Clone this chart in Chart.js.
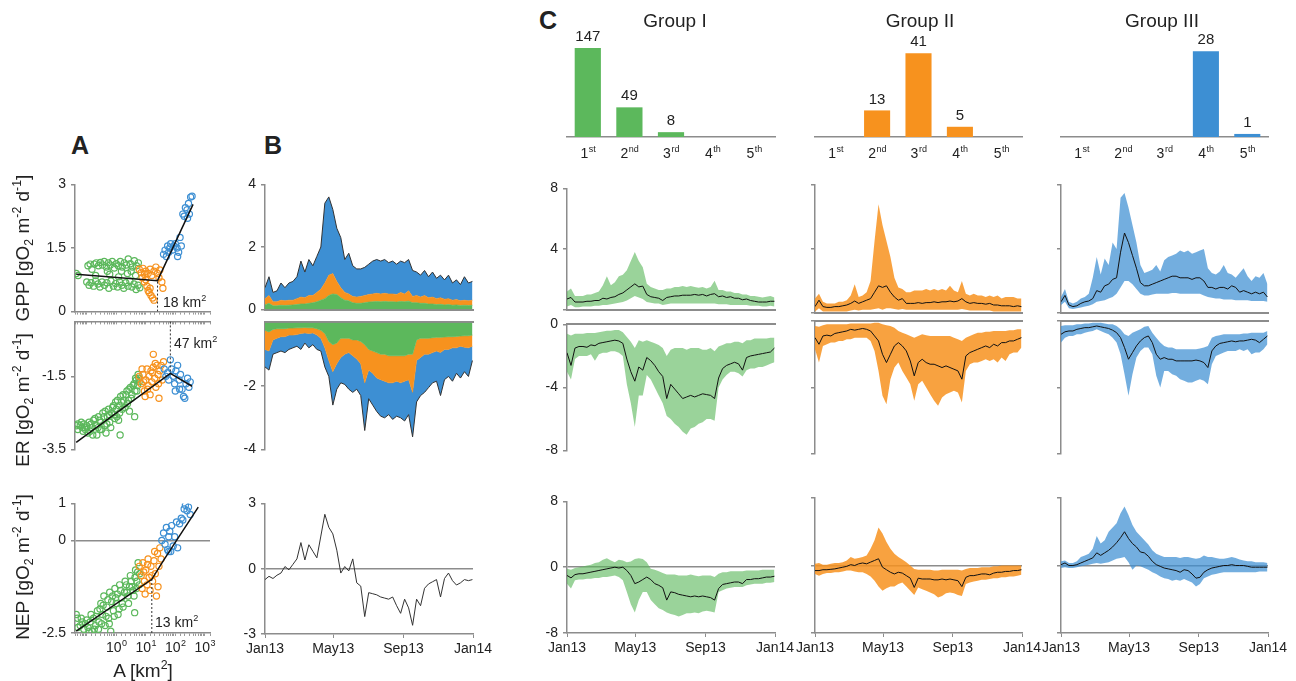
<!DOCTYPE html>
<html>
<head>
<meta charset="utf-8">
<script src="https://cdn.jsdelivr.net/npm/chart.js@4.4.1/dist/chart.umd.min.js"></script>
<style>
  body { margin: 0; background: #fff; font-family: "Liberation Sans", Arial, sans-serif; color: #222; }
  #fig { position: relative; width: 1296px; height: 681px; overflow: hidden; }
  canvas { position: absolute; }
  .t { position: absolute; white-space: nowrap; transform: translate(-50%, -50%); line-height: 1; z-index: 2; }
  .b { font-size: 25px; font-weight: bold; }
  .g { font-size: 19px; }
  .r { font-size: 19px; transform: translate(-50%, -50%) rotate(-90deg); }
  .n { position: absolute; white-space: nowrap; transform: translateY(-50%); font-size: 14px; line-height: 1; z-index: 2; }
  sup, sub { font-size: 65%; line-height: 0; }
</style>
</head>
<body>
<div id="fig">
  <div class="t b" style="left:80px;top:145px">A</div>
  <div class="t b" style="left:273px;top:145px">B</div>
  <div class="t b" style="left:548px;top:20px">C</div>
  <div class="t g" style="left:675px;top:20px">Group I</div>
  <div class="t g" style="left:920px;top:20px">Group II</div>
  <div class="t g" style="left:1162px;top:20px">Group III</div>
  <div class="t r" style="left:22px;top:248px">GPP [gO<sub>2</sub> m<sup>-2</sup> d<sup>-1</sup>]</div>
  <div class="t r" style="left:22px;top:400px">ER [gO<sub>2</sub> m<sup>-2</sup> d<sup>-1</sup>]</div>
  <div class="t r" style="left:22px;top:567px">NEP [gO<sub>2</sub> m<sup>-2</sup> d<sup>-1</sup>]</div>
  <div class="t" style="left:143px;top:670px;font-size:19px">A [km<sup>2</sup>]</div>
  <div class="n" style="left:163px;top:302px">18 km<sup>2</sup></div>
  <div class="n" style="left:174px;top:343px">47 km<sup>2</sup></div>
  <div class="n" style="left:155px;top:622px">13 km<sup>2</sup></div>
</div>
<script>
// ---- panel A: [catchment area km2, rate] per stream
const gppGreen = [[0.044,0.9],[0.051,0.85],[0.11,1.08],[0.13,1.12],[0.15,1.0],[0.18,1.12],[0.21,1.15],[0.25,1.08],[0.29,1.16],[0.34,1.1],[0.39,1.18],[0.46,1.05],[0.54,1.15],[0.63,1.1],[0.73,1.18],[0.86,1.03],[1.0,1.13],[1.17,1.08],[1.37,1.18],[1.6,1.05],[1.87,1.15],[2.2,1.1],[2.55,1.24],[3.0,1.13],[3.5,1.05],[4.1,1.2],[4.8,1.08],[5.6,1.15],[0.5,0.95],[1.5,0.95],[3.2,0.95],[0.2,0.85],[0.6,0.88],[1.2,0.82],[2.4,0.9],[4.5,0.85],[0.1,0.7],[0.12,0.62],[0.14,0.68],[0.17,0.6],[0.2,0.72],[0.24,0.65],[0.28,0.58],[0.33,0.7],[0.4,0.62],[0.48,0.68],[0.56,0.55],[0.66,0.72],[0.8,0.6],[0.95,0.66],[1.1,0.58],[1.3,0.7],[1.55,0.62],[1.8,0.55],[2.1,0.68],[2.5,0.6],[2.9,0.72],[3.4,0.58],[4.0,0.65],[4.7,0.52],[5.5,0.62],[6.3,0.56]];
const gppOrange = [[6,1.0],[7,0.92],[8,1.02],[9,0.88],[10,0.95],[12,0.9],[14,1.0],[16,0.85],[19,0.95],[22,1.05],[25,0.9],[30,0.98],[7.5,0.8],[9,0.7],[11,0.6],[12,0.5],[13,0.45],[15,0.38],[17,0.32],[19,0.27],[14,0.55],[10,0.75],[35,0.7],[38,0.55],[28,0.8]];
const gppBlue = [[40,1.35],[45,1.45],[50,1.3],[55,1.55],[60,1.4],[65,1.5],[70,1.6],[80,1.45],[90,1.55],[100,1.6],[115,1.5],[130,1.4],[145,1.75],[160,1.55],[120,1.3],[180,2.3],[200,2.25],[220,2.45],[250,2.4],[280,2.55],[300,2.3],[330,2.7],[370,2.72],[260,2.2]];
const gppFit = [[0.044,0.88],[25,0.73],[400,2.53]];
const gppBreak = [[25,0],[25,0.73]];

const erGreen = [[0.044,-2.85],[0.05,-2.8],[0.06,-2.85],[0.07,-2.9],[0.08,-2.8],[0.09,-2.95],[0.1,-2.85],[0.12,-2.75],[0.13,-3.0],[0.15,-2.9],[0.17,-2.7],[0.2,-2.85],[0.22,-3.1],[0.25,-2.6],[0.28,-2.95],[0.3,-2.75],[0.35,-2.5],[0.4,-2.85],[0.45,-3.05],[0.5,-2.6],[0.55,-2.4],[0.6,-2.75],[0.7,-2.5],[0.8,-2.3],[0.9,-2.65],[1.0,-2.4],[1.1,-2.15],[1.3,-2.5],[1.5,-2.2],[1.7,-2.0],[2.0,-2.35],[2.3,-1.9],[2.6,-2.15],[3.0,-1.8],[3.4,-2.0],[4.0,-1.7],[4.5,-1.55],[5.0,-1.9],[5.5,-1.45],[6.0,-1.65],[4.2,-2.6],[1.35,-3.1],[1.2,-2.7],[2.8,-2.45],
  [0.05,-2.95],[0.065,-2.75],[0.075,-3.0],[0.085,-2.9],[0.11,-3.05],[0.14,-2.8],[0.16,-3.1],[0.19,-2.65],[0.24,-2.9],[0.27,-2.7],[0.32,-2.95],[0.38,-2.6],[0.42,-2.45],[0.48,-2.8],[0.58,-2.55],[0.65,-2.9],[0.75,-2.35],[0.85,-2.55],[0.95,-2.2],[1.05,-2.6],[1.25,-2.3],[1.4,-2.05],[1.6,-2.4],[1.8,-2.15],[2.1,-2.0],[2.4,-2.25],[2.7,-1.85],[3.2,-2.1],[3.7,-1.75],[4.3,-1.9],[4.8,-1.6],[5.3,-1.75],[5.8,-1.55]];
const erOrange = [[6,-1.5],[7,-1.7],[8,-1.45],[9,-1.9],[10,-1.6],[11,-1.3],[12,-1.75],[13,-1.5],[14,-2.0],[15,-1.35],[16,-1.65],[18,-0.9],[18,-1.25],[20,-1.55],[22,-1.8],[24,-1.2],[26,-1.45],[28,-2.1],[30,-1.35],[33,-1.2],[36,-1.6],[40,-1.1],[9.5,-2.05],[7.5,-1.3],[8.5,-1.65],[11.5,-1.85],[17,-1.4],[21,-1.15],[27,-1.7]];
const erBlue = [[42,-1.3],[48,-1.5],[55,-1.4],[60,-1.6],[68,-1.05],[75,-1.3],[85,-1.5],[95,-1.7],[105,-1.35],[120,-1.2],[135,-1.6],[150,-1.45],[170,-1.85],[190,-2.05],[210,-2.1],[230,-1.7],[260,-1.55],[290,-1.8],[320,-1.65],[140,-1.85],[100,-1.9]];
const erFit = [[0.044,-3.3],[68,-1.42],[370,-1.77]];
const erBreak = [[68,0],[68,-1.42]];

const nepGreen = [[0.044,-2.0],[0.048,-2.1],[0.06,-2.3],[0.07,-2.2],[0.08,-2.4],[0.09,-2.25],[0.11,-2.35],[0.13,-2.2],[0.15,-2.45],[0.17,-2.1],[0.2,-2.3],[0.23,-1.9],[0.26,-2.2],[0.3,-1.7],[0.34,-2.0],[0.38,-1.5],[0.42,-2.3],[0.48,-1.8],[0.55,-2.1],[0.6,-1.4],[0.7,-1.65],[0.8,-1.9],[0.9,-1.3],[1.0,-1.7],[1.15,-2.0],[1.3,-1.2],[1.5,-1.55],[1.7,-1.8],[2.0,-1.1],[2.3,-1.4],[2.6,-1.7],[3.0,-0.95],[3.4,-1.25],[4.0,-1.5],[4.5,-0.8],[5.0,-1.1],[5.5,-0.6],[6.2,-0.9],[4.2,-1.95],[0.65,-2.45],
  [0.05,-2.35],[0.065,-2.1],[0.1,-2.15],[0.12,-2.45],[0.14,-2.0],[0.18,-2.4],[0.21,-2.05],[0.25,-2.4],[0.28,-1.85],[0.32,-2.25],[0.36,-1.75],[0.45,-2.05],[0.52,-1.6],[0.58,-2.25],[0.75,-1.5],[0.85,-2.05],[0.95,-1.55],[1.1,-1.45],[1.25,-1.85],[1.4,-1.35],[1.6,-1.7],[1.9,-1.4],[2.2,-1.2],[2.5,-1.5],[2.8,-1.25],[3.2,-1.1],[3.7,-1.35],[4.3,-1.0],[4.8,-1.3],[5.3,-0.85],[6.0,-1.2]];
const nepOrange = [[6,-0.7],[7,-0.95],[7.5,-1.3],[8,-0.6],[9,-1.1],[9.5,-1.45],[10,-0.8],[11,-1.2],[12,-0.5],[13,-1.0],[14,-1.35],[15,-0.7],[17,-1.1],[19,-0.55],[21,-0.9],[23,-1.5],[25,-0.35],[28,-0.7],[30,-0.2],[33,-0.5],[26,-1.25],[20,-0.3],[8.5,-0.85],[11.5,-0.65],[16,-0.95]];
const nepBlue = [[35,0.0],[40,0.2],[45,-0.1],[50,0.35],[55,-0.25],[60,0.1],[65,0.25],[70,-0.3],[75,0.4],[85,-0.15],[95,0.1],[110,0.5],[120,-0.2],[140,0.45],[160,0.6],[180,0.55],[200,0.85],[220,0.95],[250,0.8],[280,0.9],[320,0.7],[60,-0.3]];
const nepFit = [[0.044,-2.45],[16,-1.05],[39,-0.55],[600,0.9]];
const nepBreak = [[16,-2.5],[16,-1.05]];

const areaTicks = [1, 10, 100, 1000];
const areaExp = ['0', '1', '2', '3'];

// ---- time axis (days since 1 Jan 2013, weekly)
const days = [0,7,14,21,28,35,42,49,56,63,70,77,84,91,98,105,112,119,126,133,140,147,154,161,168,175,182,189,196,203,210,217,224,231,238,245,252,259,266,273,280,287,294,301,308,315,322,329,336,343,350,357,364];
const tickDays = [0, 120, 243, 365];
const monthLabels = ['Jan13', 'May13', 'Sep13', 'Jan14'];

// ---- panel B: stacked group contributions
const bGppGreen = [0.15,0.2,0.12,0.12,0.14,0.13,0.14,0.15,0.16,0.18, 0.18,0.2,0.22,0.25,0.3,0.35,0.45,0.5,0.48,0.38, 0.3,0.28,0.22,0.2,0.2,0.22,0.24,0.25,0.26,0.25, 0.26,0.25,0.25,0.24,0.26,0.25,0.27,0.22,0.22,0.2, 0.2,0.18,0.18,0.16,0.17,0.15,0.16,0.14,0.15,0.13, 0.14,0.13,0.14];
const bGppOrange = [0.2,0.25,0.13,0.13,0.16,0.15,0.16,0.15,0.19,0.22, 0.2,0.25,0.23,0.3,0.35,0.5,0.65,0.65,0.42,0.32, 0.25,0.22,0.2,0.2,0.22,0.23,0.24,0.25,0.26,0.25, 0.26,0.25,0.25,0.24,0.29,0.25,0.33,0.2,0.23,0.2, 0.25,0.2,0.22,0.19,0.21,0.18,0.19,0.16,0.17,0.15, 0.16,0.15,0.16];
const bGppBlue = [0.35,0.6,0.3,0.35,0.55,0.42,0.55,0.6,0.7,1.15, 0.82,1.15,0.95,1.15,1.35,2.55,2.5,2.05,1.7,1.6, 1.05,1.3,0.98,0.9,0.88,0.9,0.97,1.05,1.08,1.05, 1.08,1.0,1.05,0.97,1.0,1.0,1.0,0.83,0.75,0.7, 0.8,0.67,0.8,0.65,0.72,0.62,0.75,0.55,0.63,0.52, 0.75,0.57,0.6];
const bErGreen = [-0.25,-0.3,-0.22,-0.2,-0.2,-0.2,-0.18,-0.18,-0.17,-0.17, -0.16,-0.17,-0.17,-0.2,-0.25,-0.35,-0.6,-0.7,-0.65,-0.5, -0.5,-0.5,-0.55,-0.55,-0.6,-0.7,-0.85,-0.9,-0.95,-1.0, -1.0,-1.05,-1.05,-1.05,-1.05,-1.05,-1.0,-1.0,-0.55,-0.5, -0.5,-0.5,-0.48,-0.47,-0.47,-0.46,-0.45,-0.45,-0.44,-0.43, -0.42,-0.42,-0.4];
const bErOrange = [-0.6,-0.6,-0.33,-0.3,-0.25,-0.25,-0.22,-0.22,-0.21,-0.18, -0.17,-0.18,-0.16,-0.2,-0.25,-0.45,-0.6,-0.85,-0.65,-0.6, -0.5,-0.45,-0.5,-0.6,-0.7,-1.2,-0.65,-0.7,-0.8,-0.8, -0.85,-0.85,-0.85,-0.8,-0.85,-0.8,-0.8,-1.2,-0.65,-0.6, -0.5,-0.5,-0.47,-0.43,-0.48,-0.39,-0.4,-0.35,-0.36,-0.32, -0.36,-0.38,-0.35];
const bErBlue = [-0.55,-0.6,-0.45,-0.45,-0.45,-0.5,-0.45,-0.4,-0.37,-0.5, -0.32,-0.45,-0.37,-0.45,-0.4,-0.6,-0.5,-1.05,-0.8,-0.8, -0.95,-1.15,-1.15,-0.95,-1.0,-1.5,-0.9,-1.0,-1.05,-1.15, -1.15,-1.0,-1.15,-1.1,-1.1,-1.25,-1.1,-1.4,-1.3,-1.2, -1.2,-1.05,-0.95,-0.95,-1.35,-0.95,-0.85,-1.05,-0.8,-1.0, -0.77,-0.9,-0.45];
const bNep = [-0.5,-0.35,-0.45,-0.3,-0.2,0.1,-0.05,0.2,0.45,1.2, 0.4,1.1,0.8,0.5,1.5,2.5,1.9,1.6,0.85,-0.2, 0.1,-0.1,0.45,-0.65,-0.8,-2.2,-1.1,-1.15,-1.2,-1.3, -1.35,-1.4,-1.3,-1.7,-2.05,-1.4,-1.8,-2.6,-1.4,-1.7, -0.9,-0.7,-0.6,-0.5,-1.3,-0.45,-0.2,-0.55,-0.75,-0.65, -0.5,-0.55,-0.5];

// ---- panel C: counts by stream order
const orderNum = ['1', '2', '3', '4', '5'];
const orderSup = ['st', 'nd', 'rd', 'th', 'th'];
const countsI = [147, 49, 8, 0, 0];
const countsII = [0, 13, 41, 5, 0];
const countsIII = [0, 0, 0, 28, 1];

// ---- panel C: group mean and range
const c1GppMean = [0.7,0.8,0.5,0.5,0.5,0.55,0.55,0.6,0.6,0.75, 0.7,0.8,0.85,1.0,1.1,1.3,1.5,1.7,1.5,1.55, 1.0,0.85,0.8,0.75,0.6,0.8,0.85,0.9,0.9,0.95, 0.95,0.95,1.0,0.95,1.0,0.9,1.0,1.05,0.85,0.9, 0.8,0.85,0.75,0.75,0.65,0.7,0.6,0.55,0.5,0.5, 0.5,0.55,0.55];
const c1GppLo = [0.2,0.3,0.15,0.15,0.2,0.2,0.2,0.25,0.25,0.3, 0.3,0.35,0.4,0.45,0.5,0.6,0.75,0.9,0.8,0.7, 0.5,0.45,0.4,0.4,0.3,0.35,0.4,0.4,0.4,0.4, 0.4,0.4,0.4,0.4,0.4,0.4,0.4,0.4,0.35,0.35, 0.35,0.3,0.3,0.3,0.3,0.3,0.25,0.25,0.25,0.2, 0.2,0.25,0.2];
const c1GppHi = [1.2,1.4,0.9,0.9,0.9,1.0,1.0,1.1,1.2,1.6, 2.2,1.6,1.8,2.2,2.3,2.6,3.2,3.8,3.2,2.8, 1.7,1.5,1.4,1.3,1.3,1.4,1.4,1.5,1.5,1.55, 1.5,1.55,1.5,1.45,1.5,1.4,1.5,1.9,1.3,1.3, 1.2,1.2,1.1,1.1,1.0,1.0,0.9,0.9,0.85,0.8, 0.85,0.9,0.8];
const c1ErMean = [-1.8,-2.6,-1.5,-1.4,-1.4,-1.45,-1.3,-1.35,-1.2,-1.15, -1.1,-1.05,-1.0,-1.05,-1.2,-2.2,-3.0,-3.6,-2.7,-2.9, -2.1,-2.3,-2.6,-3.0,-3.3,-4.7,-3.8,-4.1,-4.4,-4.7, -4.6,-4.5,-4.6,-4.5,-4.4,-4.45,-4.5,-4.7,-3.4,-2.8, -2.6,-2.5,-2.4,-2.5,-2.9,-2.1,-2.0,-1.95,-1.9,-1.85, -1.8,-1.75,-1.5];
const c1ErHi = [-0.6,-0.7,-0.6,-0.6,-0.6,-0.55,-0.55,-0.55,-0.5,-0.45, -0.4,-0.4,-0.35,-0.35,-0.5,-0.8,-1.1,-1.5,-1.0,-1.1, -1.0,-1.1,-1.2,-1.3,-1.5,-2.0,-1.6,-1.5,-1.5,-1.5, -1.6,-1.5,-1.5,-1.5,-1.6,-1.6,-1.5,-1.7,-1.4,-1.3, -1.2,-1.2,-1.1,-1.1,-1.2,-1.0,-1.0,-0.9,-0.9,-0.9, -0.9,-0.85,-0.85];
const c1ErLo = [-3.0,-3.5,-2.2,-2.0,-2.0,-2.0,-1.9,-2.3,-1.9,-1.8, -1.8,-1.7,-1.7,-1.8,-2.0,-3.8,-5.0,-6.5,-4.5,-4.5, -3.2,-3.5,-4.0,-4.5,-5.0,-5.8,-6.0,-6.3,-6.5,-6.8, -7.0,-6.6,-6.5,-6.3,-6.2,-6.0,-6.0,-6.1,-4.0,-3.5, -3.2,-3.0,-3.0,-3.1,-3.3,-2.9,-2.8,-2.8,-2.7,-2.7, -2.6,-2.5,-2.4];
const c1NepMean = [-1.0,-1.3,-0.9,-0.8,-0.8,-0.7,-0.6,-0.5,-0.4,-0.3, -0.2,-0.1,0.0,-0.1,0.0,-0.4,-1.0,-2.0,-1.8,-1.5, -1.2,-1.5,-2.0,-2.2,-2.5,-4.0,-3.0,-3.1,-3.3,-3.4, -3.5,-3.6,-3.5,-3.6,-3.5,-3.6,-3.7,-4.0,-2.6,-2.1, -2.0,-1.9,-1.8,-1.8,-2.0,-1.5,-1.5,-1.4,-1.4,-1.3, -1.2,-1.2,-1.1];
const c1NepHi = [-0.2,-0.3,-0.1,0.0,0.1,0.2,0.3,0.5,0.6,0.9, 1.1,0.8,0.6,0.9,0.8,0.6,0.7,1.0,1.1,1.0, 0.6,-0.2,-0.3,-0.5,-0.7,-0.9,-0.9,-0.9,-1.0,-1.0, -1.0,-0.9,-1.0,-1.1,-1.0,-1.0,-1.0,-1.2,-0.8,-0.6, -0.6,-0.5,-0.5,-0.5,-0.5,-0.4,-0.4,-0.4,-0.4,-0.3, -0.3,-0.3,-0.3];
const c1NepLo = [-2.0,-2.6,-1.6,-1.5,-1.5,-1.4,-1.4,-1.3,-1.3,-1.2, -1.2,-1.1,-1.0,-1.2,-1.6,-3.0,-4.5,-5.5,-4.0,-3.0, -3.0,-4.0,-4.5,-5.0,-5.2,-5.5,-5.7,-5.8,-6.0,-5.8, -5.6,-5.6,-5.5,-5.6,-5.4,-5.3,-5.4,-5.5,-3.0,-2.8, -2.6,-2.5,-2.4,-2.4,-2.4,-2.2,-2.1,-2.0,-2.0,-2.0, -1.9,-1.9,-1.8];

const c2GppMean = [0.4,0.8,0.4,0.35,0.35,0.4,0.4,0.45,0.5,0.6, 0.75,0.6,0.7,0.8,0.9,1.3,1.7,1.6,1.7,1.3, 1.0,0.8,0.9,0.6,0.6,0.6,0.65,0.6,0.65,0.65, 0.7,0.65,0.7,0.7,0.75,0.7,0.75,0.9,0.7,0.6, 0.65,0.6,0.6,0.55,0.6,0.5,0.5,0.45,0.45,0.45, 0.4,0.45,0.4];
const c2GppLo = [0.1,0.3,0.1,0.1,0.1,0.1,0.1,0.1,0.1,0.15, 0.2,0.15,0.2,0.2,0.2,0.25,0.3,0.2,0.3,0.3, 0.25,0.2,0.25,0.2,0.2,0.2,0.2,0.2,0.2,0.2, 0.2,0.2,0.2,0.2,0.2,0.2,0.2,0.25,0.2,0.15, 0.15,0.15,0.15,0.15,0.15,0.1,0.1,0.1,0.1,0.1, 0.1,0.1,0.1];
const c2GppHi = [0.9,1.2,0.7,0.6,0.6,0.6,0.7,0.7,0.8,1.1, 1.8,1.0,1.1,1.3,2.0,4.5,6.8,5.5,4.5,3.5, 2.2,1.6,1.5,1.3,1.3,1.4,1.4,1.4,1.5,1.4, 1.5,1.4,1.5,1.4,1.7,1.4,1.3,2.0,1.2,1.1, 1.2,1.1,1.1,1.0,1.1,1.0,1.1,0.9,1.0,1.0, 1.0,0.9,0.9];
const c2ErMean = [-1.0,-1.4,-0.9,-0.85,-0.9,-0.75,-0.7,-0.65,-0.6,-0.5, -0.55,-0.5,-0.45,-0.5,-0.6,-0.9,-1.2,-2.0,-2.5,-2.0, -1.5,-1.3,-1.5,-1.8,-2.4,-3.3,-2.5,-2.3,-2.5,-2.6, -2.6,-2.7,-2.8,-2.7,-2.8,-2.9,-3.0,-3.5,-2.1,-1.9, -1.8,-1.7,-1.6,-1.5,-1.6,-1.4,-1.5,-1.3,-1.3,-1.2, -1.2,-1.1,-1.0];
const c2ErHi = [-0.3,-0.35,-0.25,-0.2,-0.2,-0.2,-0.2,-0.2,-0.2,-0.15, -0.15,-0.15,-0.15,-0.15,-0.15,-0.1,-0.1,-0.2,-0.25,-0.3, -0.4,-0.6,-0.7,-0.8,-0.9,-1.0,-0.9,-0.8,-0.85,-0.9, -0.9,-0.9,-0.9,-0.9,-0.9,-1.0,-1.1,-1.2,-1.0,-0.9, -0.8,-0.7,-0.7,-0.65,-0.65,-0.6,-0.6,-0.6,-0.6,-0.55, -0.55,-0.5,-0.5];
const c2ErLo = [-1.7,-2.5,-1.5,-1.4,-1.3,-1.3,-1.2,-1.2,-1.1,-1.1, -1.0,-1.0,-1.0,-1.0,-1.2,-1.8,-3.0,-4.5,-5.0,-3.5, -2.8,-2.5,-3.0,-3.4,-3.8,-4.8,-3.8,-3.6,-4.0,-4.4, -4.8,-5.1,-4.6,-4.4,-4.3,-4.2,-4.3,-4.9,-3.0,-2.6, -2.5,-2.5,-2.4,-2.3,-2.4,-2.3,-2.5,-2.2,-2.4,-2.0, -1.9,-1.9,-1.6];
const c2NepMean = [-0.6,-0.6,-0.5,-0.5,-0.45,-0.4,-0.3,-0.2,-0.1,0.1, 0.0,0.2,0.3,0.2,0.4,0.6,0.8,-0.2,-0.5,-0.8, -1.0,-0.8,-0.9,-1.2,-1.5,-2.6,-1.5,-1.6,-1.6,-1.6, -1.7,-1.7,-1.6,-1.7,-1.6,-1.7,-1.8,-2.5,-1.4,-1.2, -1.2,-1.1,-1.0,-1.0,-1.1,-0.9,-0.8,-0.8,-0.7,-0.7, -0.6,-0.6,-0.5];
const c2NepHi = [0.2,0.3,0.1,0.1,0.2,0.3,0.3,0.4,0.6,1.0, 0.8,0.9,1.0,1.2,2.0,3.0,4.5,3.8,2.8,2.0, 1.4,1.0,0.7,0.4,0.0,-0.4,-0.5,-0.5,-0.5,-0.5, -0.6,-0.6,-0.5,-0.5,-0.5,-0.5,-0.5,-0.6,-0.4,-0.3, -0.3,-0.3,-0.2,-0.2,-0.2,-0.1,-0.1,0.0,0.0,0.0, 0.0,0.0,0.0];
const c2NepLo = [-1.0,-1.2,-1.0,-0.9,-0.9,-0.8,-0.8,-0.7,-0.6,-0.6, -0.7,-0.8,-0.8,-1.0,-1.3,-1.8,-2.5,-3.0,-2.7,-2.5, -2.5,-2.2,-2.0,-2.5,-3.0,-3.5,-2.6,-2.8,-3.0,-3.2, -3.4,-3.8,-3.6,-3.3,-3.2,-3.3,-3.5,-3.6,-2.2,-2.0, -1.9,-1.8,-1.7,-1.7,-1.6,-1.5,-1.5,-1.4,-1.4,-1.3, -1.3,-1.2,-1.1];

const c3GppMean = [0.7,1.1,0.5,0.4,0.45,0.6,0.7,0.75,0.9,1.4, 1.3,1.7,1.8,2.1,2.2,3.8,5.0,4.4,3.6,2.8, 1.9,1.7,1.7,1.8,1.9,2.0,2.1,2.2,2.3,2.3, 2.2,2.2,2.2,2.1,2.2,2.2,2.0,1.6,1.6,1.5, 1.6,1.6,1.5,1.7,1.6,1.3,1.4,1.3,1.2,1.3, 1.2,1.3,1.0];
const c3GppLo = [0.5,0.7,0.3,0.25,0.3,0.35,0.4,0.45,0.55,0.7, 0.75,0.8,0.9,1.0,1.2,1.6,2.0,2.0,1.8,1.5, 1.2,1.1,1.1,1.15,1.2,1.2,1.2,1.2,1.25,1.25, 1.2,1.2,1.2,1.2,1.2,1.2,1.1,1.0,0.95,0.9, 0.9,0.85,0.85,0.85,0.8,0.8,0.8,0.8,0.75,0.75, 0.75,0.75,0.7];
const c3GppHi = [1.0,1.5,0.7,0.6,0.7,0.9,1.0,1.2,2.2,3.5, 2.4,3.4,3.0,4.4,4.0,7.2,7.5,6.6,5.5,4.4, 3.0,2.5,2.6,2.7,3.0,2.6,3.3,3.5,3.6,3.7, 3.9,3.8,3.9,3.7,3.8,3.9,4.0,2.8,2.5,2.4, 2.6,3.0,2.5,2.4,2.2,2.5,2.8,2.3,2.0,2.3, 2.2,2.5,1.8];
const c3ErMean = [-0.8,-0.65,-0.6,-0.6,-0.5,-0.45,-0.4,-0.4,-0.35,-0.3, -0.35,-0.4,-0.45,-0.55,-0.7,-1.0,-1.6,-2.3,-1.9,-1.5, -1.2,-1.0,-0.9,-1.3,-2.0,-2.3,-2.2,-2.3,-2.3,-2.4, -2.4,-2.4,-2.4,-2.4,-2.35,-2.4,-2.5,-2.8,-1.8,-1.5, -1.35,-1.3,-1.25,-1.2,-1.25,-1.2,-1.2,-1.15,-1.1,-1.15, -1.3,-1.1,-0.9];
const c3ErHi = [-0.3,-0.25,-0.25,-0.25,-0.2,-0.2,-0.15,-0.15,-0.1,-0.1, -0.1,-0.15,-0.2,-0.2,-0.3,-0.5,-0.8,-0.9,-0.7,-0.6, -0.5,-0.35,-0.3,-0.7,-1.0,-1.3,-1.5,-1.6,-1.6,-1.7, -1.7,-1.7,-1.7,-1.7,-1.7,-1.65,-1.6,-1.5,-1.0,-0.9, -0.85,-0.8,-0.8,-0.8,-0.8,-0.8,-0.75,-0.75,-0.7,-0.7, -0.7,-0.7,-0.6];
const c3ErLo = [-1.3,-1.0,-0.9,-0.9,-0.8,-0.8,-0.7,-0.65,-0.6,-0.5, -0.6,-0.7,-0.8,-1.0,-1.3,-2.0,-3.2,-4.5,-3.2,-2.2, -1.8,-1.6,-1.6,-2.0,-3.3,-4.0,-3.0,-3.0,-3.2,-3.3, -3.5,-3.6,-3.7,-3.7,-3.6,-3.5,-3.6,-3.8,-2.6,-2.1, -2.0,-1.9,-1.8,-1.8,-1.8,-1.7,-1.8,-1.7,-2.0,-1.9, -1.9,-1.7,-1.4];
const c3NepMean = [0.1,0.3,0.0,0.0,0.1,0.3,0.5,0.7,0.9,1.5, 1.2,1.5,1.8,2.2,2.7,3.3,4.0,3.2,2.6,2.2, 1.6,1.5,1.1,0.5,0.1,-0.1,-0.3,-0.4,-0.5,-0.6, -0.8,-0.5,-0.6,-1.0,-1.5,-1.4,-0.8,-0.5,-0.3,-0.2, -0.1,0.0,0.0,0.1,0.0,0.0,0.0,-0.1,-0.2,-0.2, -0.2,-0.2,-0.2];
const c3NepHi = [0.5,0.6,0.3,0.3,0.5,1.0,1.2,1.4,2.0,3.5, 2.6,3.0,4.0,4.5,5.0,6.2,7.0,6.0,4.8,4.0, 3.5,3.0,2.5,1.8,1.4,1.2,1.0,1.0,1.0,1.0, 0.9,1.0,1.0,0.9,0.8,0.9,1.2,1.0,1.0,0.9, 0.8,0.8,0.9,1.0,0.9,0.7,0.6,0.5,0.5,0.4, 0.4,0.4,0.3];
const c3NepLo = [-0.3,-0.2,-0.3,-0.3,-0.2,-0.1,0.0,0.1,0.2,0.3, 0.2,0.3,0.4,0.6,0.8,0.9,1.0,0.4,-0.5,0.0, -0.1,-0.3,-0.5,-0.8,-1.0,-1.3,-1.5,-1.6,-1.8,-1.7, -1.8,-1.6,-1.8,-2.0,-2.5,-2.2,-1.5,-1.3,-1.1,-1.0, -0.9,-0.8,-0.8,-0.8,-0.8,-0.8,-0.8,-0.8,-0.8,-0.8, -0.7,-0.7,-0.7];

// ---------------------------------------------------------------
Chart.defaults.font.family = '"Liberation Sans", Arial, sans-serif';
Chart.defaults.font.size = 14;
Chart.defaults.color = '#222';

const GRAY = '#8c8c8c';
const GREEN = '#5cb85c', ORANGE = '#f7921e', BLUE = '#3d8fd3';
const BAND_G = 'rgba(92,184,92,0.62)', BAND_O = 'rgba(247,146,30,0.85)', BAND_B = 'rgba(61,143,211,0.72)';
const fig = document.getElementById('fig');

// put a chart so its plot area lands on area = [x0, y0, x1, y1]; m = room for axes [l, t, r, b]
function place(area, m, cfg) {
  const [x0, y0, x1, y1] = area;
  const W = x1 - x0 + m[0] + m[2], H = y1 - y0 + m[1] + m[3];
  const c = document.createElement('canvas');
  c.width = W; c.height = H;
  c.style.left = (x0 - m[0]) + 'px';
  c.style.top = (y0 - m[1]) + 'px';
  c.style.width = W + 'px';
  c.style.height = H + 'px';
  fig.appendChild(c);
  const o = cfg.options;
  o.responsive = false;
  o.animation = false;
  o.devicePixelRatio = 1;
  o.events = [];
  o.plugins = Object.assign({ legend: { display: false }, tooltip: { enabled: false } }, o.plugins || {});
  const pad = { left: m[0], top: m[1], right: m[2], bottom: m[3] };
  for (const id in o.scales) {
    const s = o.scales[id];
    if (s.display === false) continue;
    if (!s.position) s.position = id === 'x' ? 'bottom' : 'left';
    const size = pad[s.position];
    pad[s.position] = 0;
    s.afterFit = sc => { if (sc.isHorizontal()) sc.height = size; else sc.width = size; };
  }
  o.layout = { padding: pad };
  return new Chart(c, cfg);
}

function supText(ctx, x, y, base, sup, size) {
  const f = s => s + 'px "Liberation Sans", Arial, sans-serif';
  const ss = Math.round(size * 0.64);
  ctx.save();
  ctx.font = f(size);
  const wb = ctx.measureText(base).width;
  ctx.font = f(ss);
  const ws = ctx.measureText(sup).width;
  const x0 = x - (wb + ws) / 2, yb = y + size * 0.36;
  ctx.fillStyle = '#222';
  ctx.textAlign = 'left';
  ctx.textBaseline = 'alphabetic';
  ctx.font = f(size);
  ctx.fillText(base, x0, yb);
  ctx.font = f(ss);
  ctx.fillText(sup, x0 + wb + 0.5, yb - size * 0.42);
  ctx.restore();
}

const pts = arr => arr.map((v, i) => ({ x: days[i], y: v }));
const pairs = arr => arr.map(([x, y]) => ({ x, y }));

function yAxis(min, max, ticks, show, zero, hideZero) {
  return {
    min, max,
    afterBuildTicks: s => { s.ticks = ticks.map(v => ({ value: v })); },
    ticks: { display: show, padding: 5, callback: v => (hideZero && v === 0 ? '' : String(v)) },
    grid: {
      drawOnChartArea: !!zero,
      color: c => (c.tick && c.tick.value === 0 ? GRAY : 'rgba(0,0,0,0)'),
      lineWidth: 1.5, tickColor: GRAY, tickLength: 4
    },
    border: { color: GRAY, width: 1.5 }
  };
}

function timeAxis(pos, labels) {
  return {
    type: 'linear', position: pos, min: 0, max: 365,
    afterBuildTicks: s => { s.ticks = tickDays.map(v => ({ value: v })); },
    ticks: { display: labels, autoSkip: false, maxRotation: 0, padding: 3, callback: v => monthLabels[tickDays.indexOf(v)] },
    grid: { display: labels, drawOnChartArea: false, tickLength: 4, color: GRAY },
    border: { color: GRAY, width: labels ? 1.5 : 2 }
  };
}

function logAxis(pos) {
  return {
    type: 'logarithmic', position: pos, min: 0.04, max: 1500,
    ticks: { autoSkip: false, maxRotation: 0, callback: () => '' },
    grid: { drawOnChartArea: false, tickLength: pos === 'top' ? -3 : 3, color: '#9a9a9a' },
    border: { color: GRAY, width: 1.5 }
  };
}

const scat = (arr, col) => ({ data: pairs(arr), showLine: false, pointRadius: 3.1, pointBorderWidth: 1.2, pointBorderColor: col, pointBackgroundColor: 'rgba(255,255,255,0)' });
const seg = (arr, dash) => ({ data: pairs(arr), showLine: true, borderColor: dash ? '#333' : '#111', borderWidth: dash ? 1 : 1.5, borderDash: dash ? [2, 2] : [], pointRadius: 0 });

const logLabels = {
  id: 'logLabels',
  afterDraw(ch) {
    const s = ch.scales.x;
    areaTicks.forEach((v, i) => supText(ch.ctx, s.getPixelForValue(v), s.top + 14, '10', areaExp[i], 14));
  }
};

// ---- panel A
place([75, 181, 210, 315], [40, 10, 6, 10], {
  type: 'scatter',
  data: { datasets: [seg(gppFit), seg(gppBreak, true), scat(gppBlue, BLUE), scat(gppOrange, ORANGE), scat(gppGreen, GREEN)] },
  options: { scales: { x: logAxis('bottom'), y: yAxis(0, 3, [0, 1.5, 3], true) } }
});
place([75, 318, 210, 453], [40, 10, 6, 10], {
  type: 'scatter',
  data: { datasets: [seg(erFit), seg(erBreak, true), scat(erBlue, BLUE), scat(erOrange, ORANGE), scat(erGreen, GREEN)] },
  options: { scales: { x: logAxis('top'), y: yAxis(-3.5, 0, [-3.5, -1.5], true) } }
});
place([75, 500, 210, 633], [40, 10, 10, 24], {
  type: 'scatter',
  data: { datasets: [seg(nepFit), seg(nepBreak, true), scat(nepBlue, BLUE), scat(nepOrange, ORANGE), scat(nepGreen, GREEN)] },
  options: { scales: { x: logAxis('bottom'), y: yAxis(-2.5, 1, [-2.5, 0, 1], true, true) } },
  plugins: [logLabels]
});

// ---- panel B
const layer = (arr, col, fill, edge) => ({ data: pts(arr), backgroundColor: col, borderColor: edge ? '#333' : col, borderWidth: edge ? 1 : 0.6, pointRadius: 0, tension: 0, fill });
place([265, 181, 473, 313], [40, 10, 8, 10], {
  type: 'line',
  data: { datasets: [layer(bGppGreen, GREEN, 'origin'), layer(bGppOrange, ORANGE, '-1'), layer(bGppBlue, BLUE, '-1', true)] },
  options: { scales: { x: timeAxis('bottom', false), y: Object.assign(yAxis(0, 4, [0, 2, 4], true), { stacked: true }) } }
});
place([265, 319, 473, 453], [40, 10, 8, 10], {
  type: 'line',
  data: { datasets: [layer(bErGreen, GREEN, 'origin'), layer(bErOrange, ORANGE, '-1'), layer(bErBlue, BLUE, '-1', true)] },
  options: { scales: { x: timeAxis('top', false), y: Object.assign(yAxis(-4, 0, [-4, -2], true), { stacked: true }) } }
});
place([265, 500, 473, 634], [40, 10, 24, 26], {
  type: 'line',
  data: { datasets: [{ data: pts(bNep), borderColor: '#333', borderWidth: 1, pointRadius: 0 }] },
  options: { scales: { x: timeAxis('bottom', true), y: yAxis(-3, 3, [-3, 0, 3], true, true) } }
});

// ---- panel C
const barText = {
  id: 'barText',
  afterDraw(ch) {
    const ctx = ch.ctx, xs = ch.scales.x, meta = ch.getDatasetMeta(0), vals = ch.data.datasets[0].data;
    orderNum.forEach((n, i) => supText(ctx, xs.getPixelForTick(i), xs.top + 16, n, orderSup[i], 14));
    ctx.save();
    ctx.font = '15px "Liberation Sans", Arial, sans-serif';
    ctx.fillStyle = '#222';
    ctx.textAlign = 'center';
    ctx.textBaseline = 'middle';
    meta.data.forEach((b, i) => { if (vals[i] > 0) ctx.fillText(String(vals[i]), b.x, b.y - 11); });
    ctx.restore();
  }
};

function bars(area, vals, color, max) {
  place(area, [4, 22, 4, 26], {
    type: 'bar',
    data: {
      labels: orderNum.map((n, i) => n + orderSup[i]),
      datasets: [{ data: vals, backgroundColor: color, borderWidth: 0, barPercentage: 0.63, categoryPercentage: 1 }]
    },
    options: {
      scales: {
        x: { ticks: { display: false }, grid: { display: false }, border: { color: GRAY, width: 1.5 } },
        y: { display: false, min: 0, max }
      }
    },
    plugins: [barText]
  });
}

function band(area, m, mean, lo, hi, col, x, y) {
  place(area, m, {
    type: 'line',
    data: {
      datasets: [
        { data: pts(mean), borderColor: '#111', borderWidth: 1, pointRadius: 0 },
        { data: pts(lo), borderColor: 'rgba(0,0,0,0)', borderWidth: 1, pointRadius: 0, fill: false },
        { data: pts(hi), borderColor: 'rgba(0,0,0,0)', borderWidth: 1, pointRadius: 0, fill: '-1', backgroundColor: col }
      ]
    },
    options: { scales: { x, y } }
  });
}

const groups = [
  { x0: 567, x1: 775, counts: countsI, color: GREEN, max: 152, col: BAND_G, labels: true,
    gpp: [c1GppMean, c1GppLo, c1GppHi], er: [c1ErMean, c1ErLo, c1ErHi], nep: [c1NepMean, c1NepLo, c1NepHi] },
  { x0: 815, x1: 1022, counts: countsII, color: ORANGE, max: 45, col: BAND_O, labels: false,
    gpp: [c2GppMean, c2GppLo, c2GppHi], er: [c2ErMean, c2ErLo, c2ErHi], nep: [c2NepMean, c2NepLo, c2NepHi] },
  { x0: 1061, x1: 1268, counts: countsIII, color: BLUE, max: 30, col: BAND_B, labels: false,
    gpp: [c3GppMean, c3GppLo, c3GppHi], er: [c3ErMean, c3ErLo, c3ErHi], nep: [c3NepMean, c3NepLo, c3NepHi] }
];

groups.forEach(g => {
  bars([g.x0, 45, g.x1, 137], g.counts, g.color, g.max);
  band([g.x0, 185, g.x1, 313], [40, 10, 8, 10], ...g.gpp, g.col, timeAxis('bottom', false), yAxis(0, 8, [0, 4, 8], g.labels, false, true));
  band([g.x0, 321, g.x1, 454], [40, 10, 8, 10], ...g.er, g.col, timeAxis('top', false), yAxis(-8, 0, [-8, -4, 0], g.labels));
  band([g.x0, 498, g.x1, 633], [40, 10, 24, 26], ...g.nep, g.col, timeAxis('bottom', true), yAxis(-8, 8, [-8, 0, 8], g.labels, true));
});
</script>
</body>
</html>
